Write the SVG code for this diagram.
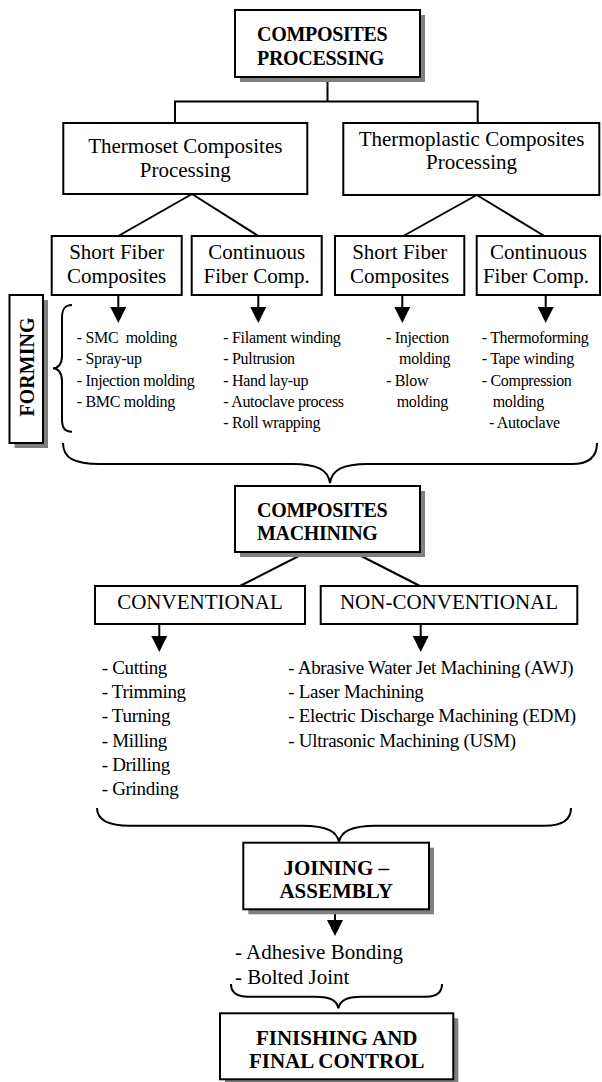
<svg xmlns="http://www.w3.org/2000/svg" width="602" height="1082" viewBox="0 0 602 1082">
<style>
.bg{fill:#fff}
.box{fill:#fff;stroke:#000;stroke-width:2}
.shadow{fill:#808080}
.t{font-family:"Liberation Serif","Times New Roman",serif;fill:#000}
.h{font-weight:bold;font-size:20px;letter-spacing:-0.3px}
.hb{font-weight:bold;font-size:21px}
.n{font-size:21px;text-anchor:middle}
.l16{font-size:16px;letter-spacing:-0.3px}
.l19{font-size:19px;letter-spacing:-0.3px}
.l21{font-size:21px}
.c{stroke:#000;stroke-width:2;fill:none}
.m{text-anchor:middle}
</style>
<defs>
<marker id="arr" viewBox="0 0 16 16" refX="1" refY="8" markerWidth="16" markerHeight="16" markerUnits="userSpaceOnUse" orient="auto">
<path d="M0,0 L16,8 L0,16 z" fill="#000"/>
</marker>
</defs>
<rect class="bg" x="0" y="0" width="602" height="1082"/>

<g id="connectors">
<path class="c" d="M327.5,77 V101.5 M175,101.5 H477.7 M175,100.5 V123 M477.7,100.5 V123"/>
<path class="c" d="M192,194 L118.3,236 M192,194 L258.3,236 M476.7,195 L403.3,236 M476.7,195 L544.3,236"/>
<line class="c" x1="118.3" y1="295" x2="118.3" y2="308" marker-end="url(#arr)"/>
<line class="c" x1="258.3" y1="295" x2="258.3" y2="308" marker-end="url(#arr)"/>
<line class="c" x1="402.3" y1="295" x2="402.3" y2="308" marker-end="url(#arr)"/>
<line class="c" x1="545.7" y1="295" x2="545.7" y2="308" marker-end="url(#arr)"/>
<path class="c" d="M72,305 C64,305 62,310 62,318 L62,356 C62,364 58,368.3 53,368.3 C58,368.3 62,373 62,381 L62,419 C62,427 64,431.7 72,431.7"/>
<path class="c" d="M63,443 C63,458 74,464 100,464 L292,464 C318,464 328,470 330,483 C332,470 342,464 368,464 L572,464 C590,464 597,456 597,443"/>
<path class="c" d="M306.7,552 L240,586 M353.3,552 L420,586"/>
<line class="c" x1="159.3" y1="624" x2="159.3" y2="637" marker-end="url(#arr)"/>
<line class="c" x1="420.7" y1="624" x2="420.7" y2="637" marker-end="url(#arr)"/>
<path class="c" d="M97,808 C97,820 108,825.7 130,825.7 L302,825.7 C328,825.7 337,832 339,842 C341,832 350,825.7 376,825.7 L545,825.7 C563,825.7 571,819 571,808"/>
<line class="c" x1="335" y1="909.3" x2="335" y2="921" marker-end="url(#arr)"/>
<path class="c" d="M231,984 C231,992 236,996.7 248,996.7 L315,996.7 C332,996.7 337,1001 338.3,1008.3 C340,1001 345,996.7 362,996.7 L426,996.7 C437,996.7 442,992 442,984"/>
</g>

<g id="composites-processing">
<rect class="shadow" x="240" y="15" width="185" height="67"/>
<rect class="box" x="235" y="10" width="185" height="67"/>
<text class="t h" x="257" y="40.7">COMPOSITES</text>
<text class="t h" x="257" y="65">PROCESSING</text>
</g>

<g id="thermoset">
<rect class="box" x="63.3" y="123" width="244" height="71"/>
<text class="t n" x="185.3" y="152.5">Thermoset Composites</text>
<text class="t n" x="185.3" y="177">Processing</text>
</g>

<g id="thermoplastic">
<rect class="box" x="343.3" y="123" width="256" height="72"/>
<text class="t n" x="471.5" y="145.5">Thermoplastic Composites</text>
<text class="t n" x="471.5" y="169">Processing</text>
</g>

<g id="short-fiber-thermoset">
<rect class="box" x="51.7" y="236" width="130" height="59"/>
<text class="t n" x="116.7" y="259">Short Fiber</text>
<text class="t n" x="116.7" y="283">Composites</text>
</g>

<g id="continuous-thermoset">
<rect class="box" x="191.7" y="236" width="130" height="59"/>
<text class="t n" x="256.7" y="259">Continuous</text>
<text class="t n" x="256.7" y="283">Fiber Comp.</text>
</g>

<g id="short-fiber-thermoplastic">
<rect class="box" x="335" y="236" width="129.3" height="59"/>
<text class="t n" x="399.7" y="259">Short Fiber</text>
<text class="t n" x="399.7" y="283">Composites</text>
</g>

<g id="continuous-thermoplastic">
<rect class="box" x="476.7" y="236" width="123.3" height="59"/>
<text class="t n" x="538.5" y="259">Continuous</text>
<text class="t n" x="536" y="283">Fiber Comp.</text>
</g>

<g id="forming">
<rect class="shadow" x="14.5" y="300" width="33.5" height="148"/>
<rect class="box" x="9.5" y="295" width="33.5" height="148"/>
<text class="t m" font-weight="bold" font-size="20" transform="translate(33.5,367) rotate(-90)">FORMING</text>
</g>

<g id="forming-lists">
<text class="t l16" x="76.7" y="343" xml:space="preserve">- SMC  molding</text>
<text class="t l16" x="76.7" y="364.3">- Spray-up</text>
<text class="t l16" x="76.7" y="385.6">- Injection molding</text>
<text class="t l16" x="76.7" y="406.9">- BMC molding</text>
<text class="t l16" x="223.3" y="343">- Filament winding</text>
<text class="t l16" x="223.3" y="364.3">- Pultrusion</text>
<text class="t l16" x="223.3" y="385.6">- Hand lay-up</text>
<text class="t l16" x="223.3" y="406.9">- Autoclave process</text>
<text class="t l16" x="223.3" y="428.2">- Roll wrapping</text>
<text class="t l16" x="386" y="343">- Injection</text>
<text class="t l16" x="399" y="364.3">molding</text>
<text class="t l16" x="386" y="385.6">- Blow</text>
<text class="t l16" x="396.7" y="406.9">molding</text>
<text class="t l16" x="481.7" y="343">- Thermoforming</text>
<text class="t l16" x="481.7" y="364.3">- Tape winding</text>
<text class="t l16" x="481.7" y="385.6">- Compression</text>
<text class="t l16" x="492.7" y="406.9">molding</text>
<text class="t l16" x="489" y="428.2">- Autoclave</text>
</g>

<g id="composites-machining">
<rect class="shadow" x="240" y="491" width="185" height="66"/>
<rect class="box" x="235" y="486" width="185" height="66"/>
<text class="t h" x="257" y="516.5">COMPOSITES</text>
<text class="t h" x="257" y="540">MACHINING</text>
</g>

<g id="conventional">
<rect class="box" x="95" y="586" width="210" height="38"/>
<text class="t n" x="200" y="609.3">CONVENTIONAL</text>
</g>

<g id="non-conventional">
<rect class="box" x="320.7" y="586" width="256.6" height="38"/>
<text class="t n" x="449" y="609.3">NON-CONVENTIONAL</text>
</g>

<g id="machining-lists">
<text class="t l19" x="101.7" y="674">- Cutting</text>
<text class="t l19" x="101.7" y="698.2">- Trimming</text>
<text class="t l19" x="101.7" y="722.4">- Turning</text>
<text class="t l19" x="101.7" y="746.6">- Milling</text>
<text class="t l19" x="101.7" y="770.8">- Drilling</text>
<text class="t l19" x="101.7" y="795">- Grinding</text>
<text class="t l19" x="288.3" y="674">- Abrasive Water Jet Machining (AWJ)</text>
<text class="t l19" x="288.3" y="698.2">- Laser Machining</text>
<text class="t l19" x="288.3" y="722.4">- Electric Discharge Machining (EDM)</text>
<text class="t l19" x="288.3" y="746.6">- Ultrasonic Machining (USM)</text>
</g>

<g id="joining-assembly">
<rect class="shadow" x="248.3" y="847.7" width="185.7" height="66.6"/>
<rect class="box" x="243.3" y="842.7" width="185.7" height="66.6"/>
<text class="t hb m" x="336.2" y="875">JOINING –</text>
<text class="t hb m" x="336.2" y="898.3">ASSEMBLY</text>
</g>

<g id="joining-list">
<text class="t l21" x="235" y="959">- Adhesive Bonding</text>
<text class="t l21" x="235" y="983.5">- Bolted Joint</text>
</g>

<g id="finishing">
<rect class="shadow" x="225" y="1018.3" width="233.3" height="66"/>
<rect class="box" x="220" y="1013.3" width="233.3" height="66"/>
<text class="t hb m" x="336.7" y="1045">FINISHING AND</text>
<text class="t hb m" x="336.7" y="1068.3">FINAL CONTROL</text>
</g>
</svg>
